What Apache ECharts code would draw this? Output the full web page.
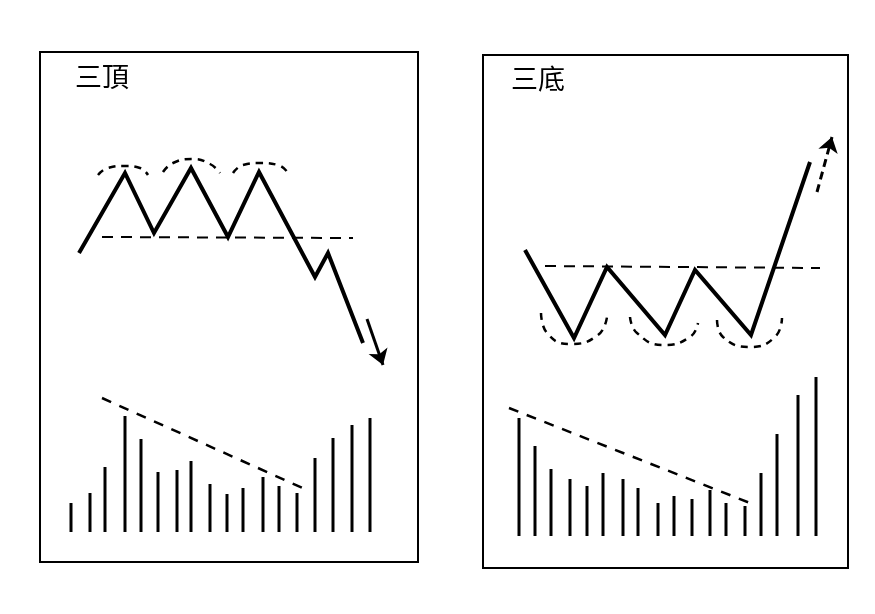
<!DOCTYPE html>
<html>
<head>
<meta charset="utf-8">
<script src="https://cdn.jsdelivr.net/npm/echarts@6/dist/echarts.min.js"></script>
<style>
  html, body { margin: 0; padding: 0; background: #fff; }
  #myChart { width: 875px; height: 614px; }
</style>
</head>
<body>
<div id="myChart"></div>
<script>
// 三頂 (left panel)
const topTitle = '三頂'
const topPrice = [[39, 279], [85, 359], [114, 299], [151, 364], [188, 295], [219, 360], [275, 255], [288, 279], [323, 189]]
const topNeck = [[62, 295], [313, 294]]
const topArcs = [
  [[58, 357], [68, 364], [85, 366], [100, 364], [108, 357]],
  [[123, 360], [133, 369], [152, 373], [170, 368], [180, 359]],
  [[193, 359], [203, 367], [220, 369], [238, 367], [250, 356]]
]
const topArrow = [[327, 213], [343, 167]]
const topVolX = [31, 50, 65, 85, 101, 118, 137, 151, 170, 187, 203, 223, 239, 257, 275, 293, 312, 330]
const topVol = [29, 39, 65, 116, 93, 60, 62, 71, 48, 38, 44, 55, 46, 39, 74, 94, 107, 114]
const topVolTrend = [[62, 134], [267, 42]]

// 三底 (right panel)
const bottomTitle = '三底'
const bottomPrice = [[42, 286], [91, 198], [124, 269], [182, 201], [212, 266], [268, 201], [327, 374]]
const bottomNeck = [[62, 270], [337, 268]]
const bottomArcs = [
  [[58, 223], [64, 203], [87, 192], [115, 201], [124, 219]],
  [[147, 219], [154, 203], [180, 191], [207, 199], [215, 213]],
  [[234, 216], [240, 199], [267, 189], [292, 199], [299, 218]]
]
const bottomArrow = [[334, 344], [349, 399]]
const bottomVolX = [36, 52, 68, 87, 104, 120, 140, 155, 175, 191, 209, 227, 243, 262, 278, 294, 315, 333]
const bottomVol = [118, 90, 67, 57, 50, 63, 57, 48, 33, 40, 37, 46, 33, 30, 63, 102, 141, 159]
const bottomVolTrend = [[26, 128], [267, 33]]

function panelSeries (idx, price, neck, arcs, arrow, volX, vol, trend) {
  let series = [
    {
      type: 'line',
      xAxisIndex: idx,
      yAxisIndex: idx,
      data: price,
      symbol: 'none',
      lineStyle: { color: '#000', width: 4, join: 'miter' }
    },
    {
      type: 'line',
      xAxisIndex: idx,
      yAxisIndex: idx,
      data: neck,
      symbol: 'none',
      lineStyle: { color: '#000', width: 2, type: [11, 8] }
    },
    {
      type: 'line',
      xAxisIndex: idx,
      yAxisIndex: idx,
      data: trend,
      symbol: 'none',
      lineStyle: { color: '#000', width: 2.5, type: [10, 9] }
    },
    {
      type: 'bar',
      xAxisIndex: idx,
      yAxisIndex: idx,
      data: volX.map((x, i) => [x, vol[i]]),
      barWidth: 3,
      itemStyle: { color: '#000' }
    },
    {
      type: 'lines',
      coordinateSystem: 'cartesian2d',
      xAxisIndex: idx,
      yAxisIndex: idx,
      data: [{ coords: arrow }],
      symbol: ['none', 'arrow'],
      symbolSize: 15,
      lineStyle: { color: '#000', width: 3, type: idx === 1 ? [8, 5] : 'solid', opacity: 1 }
    }
  ]
  arcs.forEach(a => {
    series.push({
      type: 'line',
      xAxisIndex: idx,
      yAxisIndex: idx,
      data: a,
      smooth: true,
      symbol: 'none',
      lineStyle: { color: '#000', width: 2.5, type: [7, 6] }
    })
  })
  return series
}

let hidden = { show: false }
let titleStyle = { fontFamily: 'Noto Sans CJK TC', fontWeight: 'normal', fontSize: 27, color: '#000' }
let option = {
  animation: false,
  backgroundColor: '#fff',
  title: [
    { text: topTitle, left: 70, top: 58, textStyle: titleStyle },
    { text: bottomTitle, left: 506, top: 60, textStyle: titleStyle }
  ],
  grid: [
    { left: 40, top: 52, width: 378, height: 510, show: true, borderColor: '#000', borderWidth: 2, backgroundColor: 'transparent' },
    { left: 483, top: 55, width: 365, height: 513, show: true, borderColor: '#000', borderWidth: 2, backgroundColor: 'transparent' }
  ],
  xAxis: [
    { type: 'value', gridIndex: 0, min: 0, max: 378, show: false, splitLine: hidden },
    { type: 'value', gridIndex: 1, min: 0, max: 365, show: false, splitLine: hidden }
  ],
  yAxis: [
    { type: 'value', gridIndex: 0, min: -30, max: 480, show: false, splitLine: hidden },
    { type: 'value', gridIndex: 1, min: -32, max: 481, show: false, splitLine: hidden }
  ],
  series: [].concat(
    panelSeries(0, topPrice, topNeck, topArcs, topArrow, topVolX, topVol, topVolTrend),
    panelSeries(1, bottomPrice, bottomNeck, bottomArcs, bottomArrow, bottomVolX, bottomVol, bottomVolTrend)
  )
}

let myChart = echarts.init(document.getElementById('myChart'))
myChart.setOption(option)
</script>
</body>
</html>
